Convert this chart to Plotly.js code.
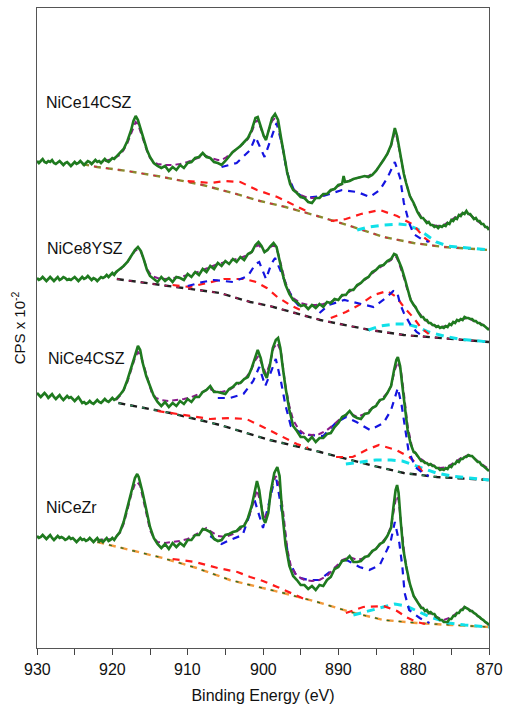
<!DOCTYPE html>
<html>
<head>
<meta charset="utf-8">
<script src="https://cdn.plot.ly/plotly-3.0.1.min.js"></script>
<style>html,body{margin:0;padding:0;background:#fff;}#chart{width:506px;height:704px;}</style>
</head>
<body>
<div id="chart"></div>
<script>
// ---------------- DATA (binding energy eV, intensity in arbitrary CPS units, stacked offsets included) ----------------
const sampleNames = ["NiCe14CSZ", "NiCe8YSZ", "NiCe4CSZ", "NiCeZr"];
const xTicks = [930, 920, 910, 900, 890, 880, 870];

// energy grids read for the experimental traces
const flatE = [930,929.75,929.5,929.25,929,928.75,928.5,928.25,928,927.75,927.5,927.25,927,926.75,926.5,926.25,926,925.75,925.5,925.25,925,924.75,924.5,924.25,924,923.75,923.5,923.25,923,922.75,922.5,922.25,922,921.75,921.5,921.25,921,920.75,920.5,920.25,920,919.75,919.5];
const tailE = [879.75,879.5,879.25,879,878.75,878.5,878.25,878,877.75,877.5,877.25,877,876.75,876.5,876.25,876,875.75,875.5,875.25,875,874.75,874.5,874.25,874,873.75,873.5,873.25,873,872.75,872.5,872.25,872,871.75,871.5,871.25,871,870.75,870.5,870.25,870];

// NiCe14CSZ
const s1FlatV = [487,485,487,489,486,485,487,486,488,485,484,486,487,485,483,485,486,484,482,484,486,484,485,487,485,483,485,487,486,484,486,488,486,487,485,487,489,487,486,488,490,489,491];
const s1MidE = [919,918.5,918,917.5,917.2,916.9,916.6,916.2,915.8,915.4,915,914.5,914,913.5,913,912.5,912,911.5,911,910.5,910,909.5,909,908.5,908,907.5,907,906.5,906,905.5,905,904.5,904,903.5,903,902.5,902,901.5,901,900.7,900.3,899.9,899.6,899.2,898.8,898.4,898,897.6,897.2,896.8,896.4,896,895.5,895,894.5,894,893.5,893,892.5,892,891.5,891,890.5,890,889.5,889.3,889.1,888.5,888,887.5,887,886.5,886,885.5,885,884.5,884,883.5,883,882.7,882.5,882.2,881.9,881.6,881.3,881,880.5,880];
const s1MidV = [494,499,507,518,527,532,528,518,508,498,491,485,482,480,482,477,481,478,483,480,485,486,490,491,495,491,490,486,485,483,487,492,496,499,502,506,510,518,530,531,522,512,508,520,530,534,528,510,491,476,464,458,455,451,450,446,445,450,450,454,454,458,459,463,464,472,466,467,469,470,471,472,471,473,477,482,488,494,503,513,520,512,498,484,474,465,452,445];
const s1TailV = [440,436,433,430,430,427,425,426,423,423,421,422,420,422,421,423,422,425,424,428,427,430,429,433,432,435,434,437,434,434,432,429,430,427,427,424,424,421,421,418];
const s1EnvE = [921,920,919,918.5,918,917.5,917.2,916.9,916.6,916.2,915.8,915.4,915,914.5,914,913,912,911,910,909,908,907.5,907,906,905.5,905,904,903,902,901.5,901,900.7,900.3,899.9,899.6,899.2,898.8,898.4,898,897.6,897.2,896.8,896.4,896,895,894,893,892,891,890,889,888,887,886,885,884,883.5,883,882.7,882.5,882.2,881.9,881.6,881.3,881,880.5,880,879,878,877,876,875,874,873,872,871,870];
const s1EnvV = [487,489,493,498,505,515,522,526,524,516,506,497,490,486,484,483,483,484,486,489,492,492,490,488,488,490,496,502,509,516,526,528,520,512,510,518,527,530,525,508,490,476,466,459,453,450,450,453,457,462,466,469,471,472,477,488,494,502,511,516,510,497,484,474,465,452,444,431,425,422,423,428,433,436,430,424,419];
const s1BgE = [924,922,918,913.3,908,904,900.4,897,892.8,888.4,884,880,876,870];
const s1BgV = [484,481,477,471,463,455,447,441,432,422,411,405,401,398];
const s1RedE = [910,907,905,903,900.8,898.1,895.9,894, null, 891,889,887,884.5,882.2,880,878.7,877.5];
const s1RedV = [467,465,467,466,458,451,443,436, null, 427,429,434,438,432,423,411,404];
const s1BlueE = [905.5,903.5,901.7,901,899.8,898.5,898.2,897.4,896.8,895.9,894.6,892,889.5,887.5,885.8,884.5,883.5,882.5,881.8,881.3,880.6,880,879,878];
const s1BlueV = [481,485,498,511,491,518,525,501,475,458,450,452,458,456,451,458,470,486,470,445,425,414,409,406];
const s1CyanE = [887.5,886,884,882,880.8,879.5,878.3,877,875.5,873,870];
const s1CyanV = [418,421,423,424,423,419,413,406,402,400,398];

// NiCe8YSZ
const s2FlatV = [370,368,369,371,369,367,369,371,369,367,369,371,368,369,371,370,368,369,368,370,371,369,367,369,371,369,370,372,370,368,370,369,367,369,371,370,371,373,371,373,375,373,376];
const s2MidE = [919,918.5,918,917.5,917,916.6,916.2,915.8,915.4,915,914.5,914,913.5,913,912.5,912,911.5,911,910.5,910,909.5,909,908.5,908,907.5,907,906.5,906,905.5,905,904.5,904,903.5,903,902.5,902,901.5,901,900.6,900.2,899.8,899.4,899,898.6,898.2,897.8,897.4,897,896.5,896,895.5,895,894.5,894,893.5,893,892.5,892,891.5,891,890.5,890,889.5,889,888.5,888,887.5,887,886.5,886,885.5,885,884.5,884,883.5,883,882.6,882.3,882,881.6,881.2,880.8,880.4,880];
const s2MidV = [379,382,386,392,398,401,397,388,378,372,369,366,371,367,370,366,371,370,368,374,371,376,373,379,376,382,379,385,382,387,384,389,386,391,388,394,396,403,406,402,396,398,402,405,401,386,374,363,354,348,346,342,343,339,343,340,344,341,346,345,349,348,353,353,358,358,363,365,369,371,376,378,382,383,387,389,394,393,388,380,370,358,348,343];
const s2TailV = [341,337,334,331,331,328,328,325,325,323,323,321,322,320,321,320,322,321,324,323,326,325,328,327,329,328,331,330,330,329,329,327,327,325,325,323,323,321,320,318];
const s2EnvE = [920,919,918,917.5,917,916.6,916.2,915.8,915.4,914.8,914,913,912,911,910,909,908,907,906,905,904,903,902,901.5,901,900.6,900.2,899.8,899.3,898.8,898.4,898,897.6,897,896.5,896,895,894,893,892,891,890,889,888,887,886,885,884,883,882.6,882.3,882,881.6,881.2,880.8,880.3,879.5,878.5,877.5,876.5,875.5,874.5,873.5,872.8,872,871,870];
const s2EnvV = [373,378,386,392,397,399,396,388,379,372,370,369,370,371,373,375,378,381,384,386,388,390,393,396,401,403,400,396,399,402,402,395,383,365,356,350,345,343,343,344,346,350,354,359,365,371,378,383,388,392,391,386,378,368,357,347,337,328,323,321,322,326,329,330,327,324,319];
const s2BgE = [919.4,912.3,905.7,901.7,899.1,892.4,885.8,881.3,876.9,870];
const s2BgV = [369,362,355,346,342,328,318,313,310,306];
const s2RedE = [912,909.7,908,905.2,902.4,900.9,899.5,898.1,896.4,894.5, null, 891,889,887,885.3,883.5,882.3,881.3,880,879,878];
const s2RedV = [363,361,364,369,369,366,360,351,343,336, null, 330,336,344,353,357,351,341,330,320,314];
const s2BlueE = [910,908,906.5,904,902,901,900.5,899.6,898.9,898.4,897.6,896.8,896,895, null, 892.5,891.3,889.2,887.5,886.7,885.3,883.7,882.7,882.2,881.8,881.3,880.4,879.6,879];
const s2BlueV = [362,366,368,366,372,384,386,369,384,390,376,361,349,340, null, 335,343,348,345,343,341,350,357,356,344,335,323,316,313];
const s2CyanE = [886,884.5,882.5,881,879.5,878,876,874,872,870];
const s2CyanV = [318,322,324,324,321,316,312,309,307.5,306];

// NiCe4CSZ
const s3FlatV = [255,253,251,253,255,253,250,252,254,251,249,251,253,250,248,250,252,250,251,249,247,249,251,248,245,246,244,245,247,245,244,246,248,246,245,247,249,247,246,248,250,248,249];
const s3MidE = [919,918.5,918,917.5,917,916.6,916.3,916,915.5,915,914.5,914,913.5,913,912.5,912,911.5,911,910.5,910,909.5,909,908.5,908,907.5,907,906.5,906,905.5,905,904.5,904,903.5,903,902.5,902,901.5,901,900.7,900.3,899.9,899.5,899.1,898.7,898.3,898,897.7,897.4,897,896.5,896,895.5,895,894.5,894,893.5,893,892.5,892,891.5,891,890.5,890,889.5,889,888.5,888,887.5,887,886.5,886,885.5,885,884.5,884,883.5,883,882.6,882.3,882.1,881.8,881.5,881.2,880.8,880.4,880];
const s3MidV = [253,258,268,280,294,302,298,286,272,262,252,246,242,246,241,245,242,247,244,249,246,251,251,256,258,262,256,256,255,254,259,261,265,265,269,271,280,292,298,290,276,270,282,300,308,310,300,282,260,238,222,217,211,211,207,211,206,210,210,214,215,221,225,231,233,237,232,230,229,234,235,240,242,248,249,255,262,278,288,291,282,262,240,218,204,196];
const s3TailV = [195,192,189,187,187,185,185,183,184,182,182,180,180,178,179,178,180,179,182,181,184,184,187,186,189,189,191,191,193,192,192,190,189,186,186,183,182,180,179,177];
const s3EnvE = [919.5,919,918.5,918,917.5,917,916.6,916.2,915.8,915.3,914.8,914.2,913.5,912.5,911.5,910.5,909.5,908.5,907.5,907,906.5,905.5,904.5,903.5,902.5,901.7,901,900.6,900.1,899.6,899.1,898.6,898.1,897.6,897.1,896.5,896,895.3,894.5,893.5,892.5,891.5,890.5,889.5,888.5,887.5,886.5,885.5,884.5,883.5,883,882.5,882.1,881.7,881.3,880.8,880.2,879.5,878.5,877.5,876.5,875.5,874.5,873.5,872.7,872,871,870];
const s3EnvV = [248,252,258,266,278,290,296,292,282,268,256,250,248,247,248,249,251,254,258,259,257,256,258,263,268,276,288,292,282,274,284,300,305,296,266,242,228,219,214,213,214,218,224,231,235,231,234,240,247,255,262,278,286,278,255,222,200,192,186,183,180,181,186,191,193,190,184,179];
const s3BgE = [919.2,912.3,905.7,899.1,892.4,885.8,881.3,876.9,870];
const s3BgV = [245,235,223,208,196,183,175,171,168];
const s3RedE = [914,911.5,909.6,907,904.4,902.2,900,897.8,895.5,894, null, 890.3,888.1,886.3,884.6,882.3,880.6,879.7,878.8];
const s3RedV = [237,234,232,229,230,229,221,213,204,200, null, 191,191,198,203,198,191,185,176];
const s3BlueE = [906,904.4,902.6,901.3,900.5,899.7,899.1,898.3,897.6,897,896.3,895,894,892,890.5,889,887.6,885.8,884,883,882.1,881.6,881.1,880.7,879.8,878.8,878];
const s3BlueV = [250,250,254,267,281,262,273,289,266,242,222,215,213,212,224,231,226,218,225,238,260,243,218,198,181,175,172];
const s3CyanE = [889,887,885,883,881.5,880,878.5,877,875,872.5,870];
const s3CyanV = [184,186,188,188,187,183,179,175,172,170,168];

// NiCeZr
const s4FlatV = [112,110,111,113,111,109,111,113,110,108,110,112,110,111,110,108,109,111,109,110,108,106,108,110,108,109,107,108,110,108,106,108,110,107,108,106,108,110,107,108,110,108,111];
const s4MidE = [919,918.5,918,917.5,917,916.7,916.5,916,915.5,915,914.5,914,913.5,913,912.5,912,911.5,911,910.5,910,909.5,909,908.5,908,907.5,907,906.5,906,905.5,905,904.5,904,903.5,903,902.5,902,901.5,901,900.8,900.5,900,899.7,899.3,899,898.5,898.1,897.8,897.5,897,896.5,896,895.5,895,894.5,894,893.5,893,892.5,892,891.5,891,890.5,890,889.5,889,888.5,888,887.5,887,886.5,886,885.5,885,884.5,884,883.5,883,882.7,882.4,882.2,882,881.7,881.4,881,880.5,880];
const s4MidV = [116,126,140,156,170,174,171,156,138,121,110,104,100,104,99,105,101,105,102,108,108,113,113,119,118,116,109,107,108,113,114,116,117,121,122,130,142,160,167,158,130,125,135,155,175,181,172,140,103,82,72,68,63,63,59,62,58,63,62,68,71,79,81,87,88,92,86,86,87,91,92,97,99,104,106,112,120,140,158,163,155,125,100,82,64,52];
const s4TailV = [49,45,42,40,40,37,38,35,36,34,34,31,30,28,28,26,26,26,29,29,32,32,35,35,38,38,41,40,39,37,37,35,34,32,31,29,28,26,25,23];
const s4EnvE = [922,920,919,918.5,918,917.5,917,916.7,916.3,916,915.5,915,914.5,914,913,912,911,910,909,908,907.5,907,906,905,904,903,902,901.5,901,900.8,900.3,899.8,899.3,898.8,898.3,897.8,897.3,896.8,896.3,895.5,894.5,893.5,892.5,891.5,890.5,889.5,888.5,887.5,886.5,885.5,884.5,883.5,883,882.6,882.3,882,881.6,881.2,880.7,880,879,878,877,876,875,874,873.2,872.5,871.5,870.5,870];
const s4EnvV = [108,109,115,124,138,153,164,166,162,152,134,118,110,106,105,106,107,109,113,118,120,117,112,111,114,119,128,140,155,158,145,128,138,162,172,162,135,100,82,72,68,67,68,72,80,88,91,88,90,96,103,112,122,140,152,148,120,92,68,52,41,35,31,28,31,37,41,38,32,26,23];
const s4BgE = [922,917.7,913.3,908.8,904.4,901.7,897.3,892.8,888.4,884,879.6,875,870];
const s4BgV = [106,98,90,80,68,63,55,46,36,28,25,23,21];
const s4RedE = [912,909,906,903.4,901.7,900,898.1,896.4,894.5, null, 889,886.7,884,882.2,881,879.6,878.5];
const s4RedV = [89,86,80,76,71,67,61,55,49, null, 35,41,42,37,31,26,24];
const s4BlueE = [907,905.5,904.4,902.7,901.7,901.2,900,898.7,898.2,897.3,896.6,895.5,894,892.5,890.5,888.9,887.2,885.9,884.5,883.1,882.5,881.9,881.5,881.2,880.6,879.2,877.9];
const s4BlueV = [112,104,108,113,135,150,120,161,168,128,88,71,68,68,80,88,81,78,83,105,126,105,81,55,38,30,25];
const s4CyanE = [888,886.5,884.5,882.5,881,879.5,877.8,875.3,873.2,870];
const s4CyanV = [33,36,40,44,42,37,31,25,23,21];

// ---------------- STYLES ----------------
const FONT = "Liberation Sans, Arial, Helvetica, sans-serif";
const spectra = [
  {flatV:s1FlatV, midE:s1MidE, midV:s1MidV, tailV:s1TailV, envE:s1EnvE, envV:s1EnvV, bgE:s1BgE, bgV:s1BgV, redE:s1RedE, redV:s1RedV, blueE:s1BlueE, blueV:s1BlueV, cyanE:s1CyanE, cyanV:s1CyanV, bgA:'#8a8a2e', bgB:'#d2224e'},
  {flatV:s2FlatV, midE:s2MidE, midV:s2MidV, tailV:s2TailV, envE:s2EnvE, envV:s2EnvV, bgE:s2BgE, bgV:s2BgV, redE:s2RedE, redV:s2RedV, blueE:s2BlueE, blueV:s2BlueV, cyanE:s2CyanE, cyanV:s2CyanV, bgA:'#222222', bgB:'#b3185c'},
  {flatV:s3FlatV, midE:s3MidE, midV:s3MidV, tailV:s3TailV, envE:s3EnvE, envV:s3EnvV, bgE:s3BgE, bgV:s3BgV, redE:s3RedE, redV:s3RedV, blueE:s3BlueE, blueV:s3BlueV, cyanE:s3CyanE, cyanV:s3CyanV, bgA:'#1a1a1a', bgB:'#2e8b57'},
  {flatV:s4FlatV, midE:s4MidE, midV:s4MidV, tailV:s4TailV, envE:s4EnvE, envV:s4EnvV, bgE:s4BgE, bgV:s4BgV, redE:s4RedE, redV:s4RedV, blueE:s4BlueE, blueV:s4BlueV, cyanE:s4CyanE, cyanV:s4CyanV, bgA:'#f39a3c', bgB:'#2a6e2a'}
];

const traces = [];
spectra.forEach(s => {
  const expE = flatE.concat(s.midE, tailE);
  const expV = s.flatV.concat(s.midV, s.tailV);
  traces.push({x:s.bgE, y:s.bgV, mode:'lines', line:{color:s.bgA, width:2.4, dash:'7px,5px'}, hoverinfo:'skip'});
  traces.push({x:s.bgE, y:s.bgV, mode:'lines', line:{color:s.bgB, width:1.3, dash:'3px,9px'}, hoverinfo:'skip'});
  traces.push({x:s.cyanE, y:s.cyanV, mode:'lines', line:{color:'#10e0e8', width:3, dash:'8px,6px'}, hoverinfo:'skip'});
  traces.push({x:s.redE, y:s.redV, mode:'lines', line:{color:'#ff1a1a', width:2.2, dash:'7px,6px'}, hoverinfo:'skip'});
  traces.push({x:s.blueE, y:s.blueV, mode:'lines', line:{color:'#1414e0', width:2.2, dash:'7px,6px'}, hoverinfo:'skip'});
  traces.push({x:s.envE, y:s.envV, mode:'lines', line:{color:'#8a1a8a', width:2, dash:'6px,4px'}, hoverinfo:'skip'});
  traces.push({x:expE, y:expV, mode:'lines', line:{color:'#1f7a1f', width:2.6}, hoverinfo:'skip'});
});

const labelPos = [[0.016, 0.852], [0.018, 0.625], [0.020, 0.452], [0.016, 0.219]];
const annotations = sampleNames.map((t, i) => ({
  text: t, xref:'paper', yref:'paper', x: labelPos[i][0], y: labelPos[i][1],
  xanchor:'left', yanchor:'middle', showarrow:false,
  font:{family:FONT, size:16, color:'#111'}
}));
// x tick labels placed as text just below the axis
xTicks.forEach(v => annotations.push({
  text: String(v), xref:'x', yref:'paper', x: v, y: -0.033,
  xanchor:'center', yanchor:'middle', showarrow:false,
  font:{family:FONT, size:16, color:'#111'}
}));

const layout = {
  width:506, height:704,
  margin:{l:37, r:17, t:8, b:56, pad:0},
  paper_bgcolor:'#ffffff', plot_bgcolor:'#ffffff',
  showlegend:false,
  font:{family:FONT, color:'#111'},
  xaxis:{
    range:[930, 870], tickvals:xTicks, showticklabels:false,
    ticks:'outside', ticklen:6, tickwidth:1, tickcolor:'#444',
    minor:{dtick:5, tick0:870, ticks:'outside', ticklen:6, tickwidth:1, tickcolor:'#444', showgrid:false},
    showline:true, linecolor:'#555', linewidth:1, mirror:true,
    showgrid:false, zeroline:false, automargin:false,
    title:{text:'Binding Energy (eV)', font:{family:FONT, size:16, color:'#111'}, standoff:37}
  },
  yaxis:{
    range:[0, 640], showticklabels:false, ticks:'',
    showline:true, linecolor:'#555', linewidth:1, mirror:true,
    showgrid:false, zeroline:false, automargin:false,
    title:{text:'CPS x 10<sup>-2</sup>', font:{family:FONT, size:15, color:'#111'}, standoff:6}
  },
  annotations: annotations
};

Plotly.newPlot('chart', traces, layout, {staticPlot:true, displayModeBar:false});
</script>
</body>
</html>
